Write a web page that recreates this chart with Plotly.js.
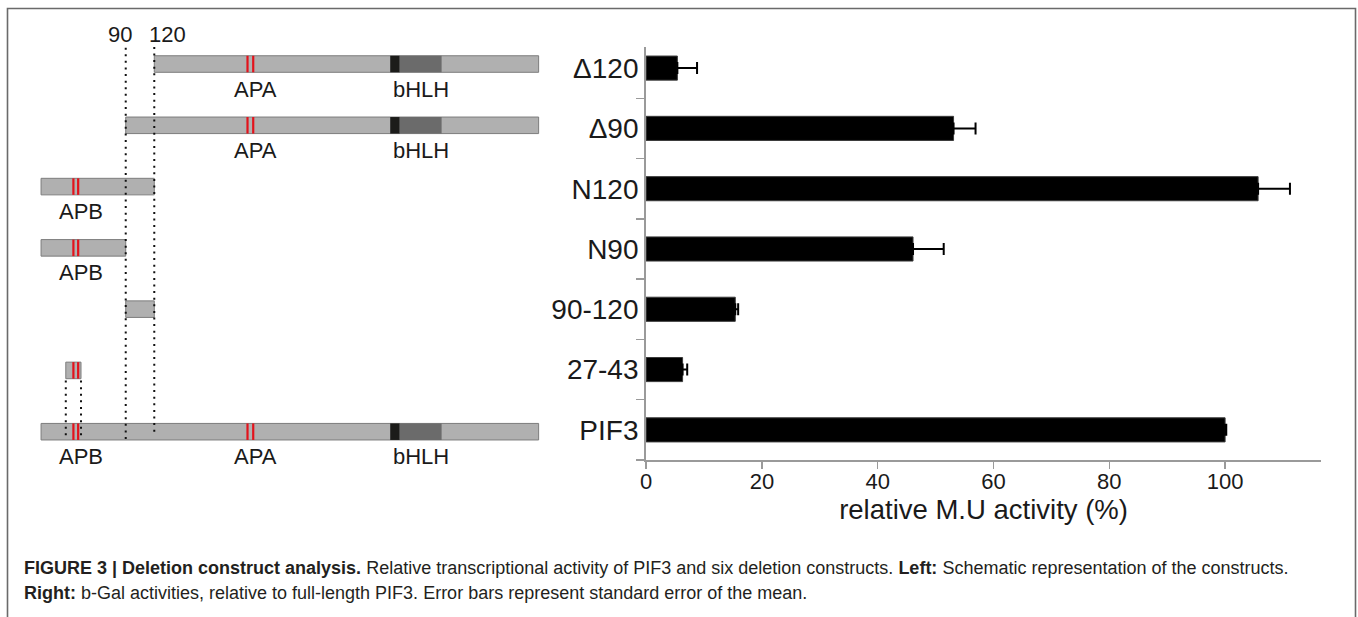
<!DOCTYPE html>
<html>
<head>
<meta charset="utf-8">
<script src="https://cdn.plot.ly/plotly-3.0.1.min.js"></script>
<style>
  html, body { margin: 0; padding: 0; background: #ffffff; }
  #chart { width: 1358px; height: 617px; }
</style>
</head>
<body>
<div id="chart"></div>
<script>
// ---------------- data ----------------
const categories = ['Δ120', 'Δ90', 'N120', 'N90', '90-120', '27-43', 'PIF3'];
const activity   = [5.4, 53.1, 105.7, 46.1, 15.4, 6.3, 100.0];
const semPlus    = [3.4, 3.8, 5.5, 5.3, 0.5, 0.8, 0.2];
const xTickVals  = [0, 20, 40, 60, 80, 100];

// schematic (amino-acid positions, PIF3 = 524 aa)
const constructStart = [120, 90, 1, 1, 90, 27, 1];
const constructEnd   = [524, 524, 120, 90, 120, 43, 524];
const apbMarks   = [35, 40];
const apaMarks   = [218, 224];
const bhlhBasic  = [368, 378];
const bhlhHLH    = [378, 422];
const deletionSites = [90, 120];
const deletionLabels = ['90', '120'];
const shortRegion = [27, 43];

const captionLine1 = '<b>FIGURE 3 | Deletion construct analysis.</b> Relative transcriptional activity of PIF3 and six deletion constructs. <b>Left:</b> Schematic representation of the constructs.';
const captionLine2 = '<b>Right:</b> b-Gal activities, relative to full-length PIF3. Error bars represent standard error of the mean.';

// ---------------- layout helpers ----------------
const W = 1358, H = 617;
const px = v => v / W;
const py = v => 1 - v / H;
const FONT = 'Liberation Sans, Arial, Helvetica, sans-serif';
const nRows = categories.length;
const rowOf = i => nRows - 1 - i;
const half = 0.135;

// chart trace
const barTrace = {
  type: 'bar', orientation: 'h',
  x: activity, y: categories,
  width: 0.4,
  marker: { color: '#000000', line: { color: '#3a3a3a', width: 1 } },
  error_x: { type: 'data', symmetric: false, array: semPlus, arrayminus: semPlus.map(() => 0),
             color: '#000000', thickness: 2, width: 6 },
  xaxis: 'x', yaxis: 'y', hoverinfo: 'x+y', showlegend: false
};

// schematic bars
const schemTrace = {
  type: 'bar', orientation: 'h',
  base: constructStart,
  x: constructStart.map((s, i) => constructEnd[i] - s),
  y: categories.map((c, i) => rowOf(i)),
  width: 2 * half,
  marker: { color: '#b0b0b0', line: { color: '#7d7d7d', width: 1 } },
  xaxis: 'x2', yaxis: 'y2', hoverinfo: 'skip', showlegend: false
};

const shapes = [];
const annotations = [];

// frame
shapes.push({ type: 'rect', xref: 'paper', yref: 'paper', x0: px(7.5), x1: px(1355.5), y0: -0.05, y1: py(8.5),
  line: { color: '#6a6a6a', width: 1.6 }, fillcolor: 'rgba(0,0,0,0)', layer: 'below' });

categories.forEach((c, i) => {
  const r = rowOf(i), s = constructStart[i], e = constructEnd[i];
  const len = e - s;
  const hasAPB = s <= apbMarks[0] && e >= apbMarks[1];
  const hasAPA = s <= apaMarks[0] && e >= apaMarks[1];
  const hasBHLH = s <= bhlhBasic[0] && e >= bhlhHLH[1];
  if (hasBHLH) {
    shapes.push({ type: 'rect', xref: 'x2', yref: 'y2', x0: bhlhBasic[0], x1: bhlhBasic[1], y0: r - half, y1: r + half,
      fillcolor: '#1c1c1a', line: { width: 0 }, layer: 'above' });
    shapes.push({ type: 'rect', xref: 'x2', yref: 'y2', x0: bhlhHLH[0], x1: bhlhHLH[1], y0: r - half, y1: r + half,
      fillcolor: '#6b6b6b', line: { width: 0 }, layer: 'above' });
  }
  const marks = [];
  if (hasAPB) marks.push(...apbMarks);
  if (hasAPA) marks.push(...apaMarks);
  marks.forEach(m => shapes.push({ type: 'line', xref: 'x2', yref: 'y2', x0: m, x1: m, y0: r - half, y1: r + half,
    line: { color: '#e3121b', width: 2.2 }, layer: 'above' }));
  if (len > 50) {
    const lab = (name, center) => annotations.push({ xref: 'x2', yref: 'y2', x: center, y: r, yshift: -25, xshift: 5,
      text: name, showarrow: false, xanchor: 'center', yanchor: 'middle', font: { family: FONT, size: 22, color: '#1a1a1a' } });
    if (hasAPB) lab('APB', (apbMarks[0] + apbMarks[1]) / 2);
    if (hasAPA) lab('APA', (apaMarks[0] + apaMarks[1]) / 2);
    if (hasBHLH) lab('bHLH', (bhlhBasic[0] + bhlhHLH[1]) / 2);
  }
});

// dotted deletion lines
const dotLine = { color: '#111111', width: 2, dash: '2px,4.6px' };
deletionSites.forEach((d, k) => {
  shapes.push({ type: 'line', xref: 'x2', yref: 'y2', x0: d, x1: d, y0: k === 0 ? -0.12 : 0.0, y1: nRows - 1 + 0.28,
    line: dotLine, layer: 'above' });
  annotations.push({ xref: 'x2', yref: 'y2', x: d, y: nRows - 1 + 0.49, xshift: k === 0 ? -6 : 13,
    text: deletionLabels[k], showarrow: false, xanchor: 'center', yanchor: 'middle',
    font: { family: FONT, size: 22, color: '#1a1a1a' } });
});
const shortRow = rowOf(categories.indexOf('27-43'));
shortRegion.forEach(d => shapes.push({ type: 'line', xref: 'x2', yref: 'y2', x0: d, x1: d, y0: -0.06, y1: shortRow - half,
  line: dotLine, layer: 'above' }));

// caption
annotations.push({ xref: 'paper', yref: 'paper', x: px(22), y: py(568), xanchor: 'left', yanchor: 'middle',
  text: captionLine1, showarrow: false, align: 'left', font: { family: FONT, size: 18, color: '#231f20' } });
annotations.push({ xref: 'paper', yref: 'paper', x: px(22), y: py(593), xanchor: 'left', yanchor: 'middle',
  text: captionLine2, showarrow: false, align: 'left', font: { family: FONT, size: 18, color: '#231f20' } });

const layout = {
  width: W, height: H,
  margin: { l: 0, r: 0, t: 0, b: 0, pad: 0 },
  paper_bgcolor: '#ffffff', plot_bgcolor: 'rgba(0,0,0,0)',
  showlegend: false,
  font: { family: FONT, color: '#1a1a1a' },
  xaxis: {
    domain: [px(646.1), px(1321)], range: [0, (1321 - 646.1) / 5.79], anchor: 'y',
    tickmode: 'array', tickvals: xTickVals, ticktext: xTickVals.map(String),
    ticks: 'outside', ticklen: 7, tickwidth: 1.5, tickcolor: '#9a9a9a',
    ticklabelstandoff: -6,
    showline: true, linecolor: '#9a9a9a', linewidth: 2,
    showgrid: false, zeroline: false,
    tickfont: { family: FONT, size: 22, color: '#1a1a1a' },
    title: { text: 'relative M.U activity (%)', font: { family: FONT, size: 27.5, color: '#1a1a1a' }, standoff: 6 },
    fixedrange: true
  },
  yaxis: {
    domain: [py(460), py(47)], range: [-0.5, 6.35], anchor: 'x',
    type: 'category', categoryorder: 'array', categoryarray: categories.slice().reverse(),
    tickson: 'boundaries', ticks: 'outside', ticklen: 8, tickwidth: 1.5, tickcolor: '#9a9a9a',
    showline: true, linecolor: '#9a9a9a', linewidth: 2,
    showgrid: false, zeroline: false,
    tickfont: { family: FONT, size: 28, color: '#1a1a1a' },
    fixedrange: true
  },
  xaxis2: { domain: [0, 1], range: [-42.15, 1385.2], anchor: 'y2', visible: false, fixedrange: true },
  yaxis2: { domain: [0, 1], range: [-3.024, 7.045], anchor: 'x2', visible: false, fixedrange: true },
  shapes: shapes,
  annotations: annotations
};

Plotly.newPlot('chart', [schemTrace, barTrace], layout, { displayModeBar: false, staticPlot: true });
</script>
</body>
</html>
